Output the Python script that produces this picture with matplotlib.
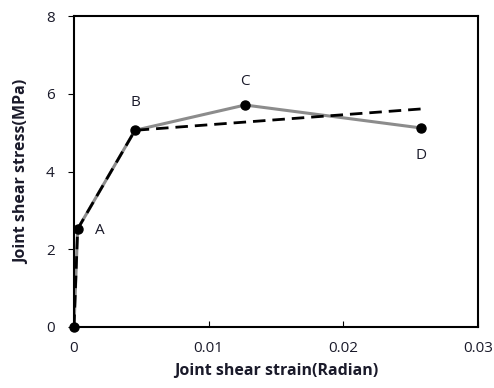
import matplotlib
matplotlib.use("Agg")
import matplotlib.pyplot as plt

# Experimental curve (grey, with points)
exp_strain = [0.0, 0.00027, 0.00453, 0.0127, 0.02577]
exp_stress = [0.0, 2.52, 5.06, 5.71, 5.12]
point_labels = ["", "A", "B", "C", "D"]

# Model curve (dashed)
mod_strain = [0.0, 0.00027, 0.00453, 0.0258]
mod_stress = [0.0, 2.52, 5.06, 5.61]

xticks = [0, 0.01, 0.02, 0.03]
xticklabels = ["0", "0.01", "0.02", "0.03"]
yticks = [0, 2, 4, 6, 8]

plt.rcParams['font.family'] = ['Open Sans', 'DejaVu Sans']
txt = '#1a1a2a'

fig = plt.figure(figsize=(4.94, 3.88), dpi=100)
ax = fig.add_axes([74/494, 61/388, 404/494, 311/388])

ax.plot(exp_strain, exp_stress, color='#8c8c8c', lw=2.2, zorder=2)
ax.plot(mod_strain, mod_stress, color='black', lw=2.0, ls=(0, (4.5, 2.5)), zorder=3)
ax.plot(exp_strain, exp_stress, ls='none', marker='o', ms=6.5, color='black', zorder=4, clip_on=False)

offsets = {"A": (16, -1), "B": (0, 20), "C": (0, 17), "D": (0, -20)}
for x, y, lab in zip(exp_strain, exp_stress, point_labels):
    if lab:
        dx, dy = offsets[lab]
        ax.annotate(lab, (x, y), xytext=(dx, dy), textcoords='offset points',
                    ha='center', va='center', fontsize=11, color=txt)

ax.set_xlim(0, 0.03)
ax.set_ylim(0, 8)
ax.set_xticks(xticks)
ax.set_xticklabels(xticklabels)
ax.set_yticks(yticks)
ax.tick_params(axis='x', direction='in', length=4, width=0.8, pad=10, labelsize=11, labelcolor=txt)
ax.tick_params(axis='y', direction='out', length=4, width=0.8, pad=10, labelsize=11, labelcolor=txt)
for s in ax.spines.values():
    s.set_linewidth(1.5)
    s.set_color('black')

ax.set_xlabel('Joint shear strain(Radian)', fontsize=11.5, fontweight='bold', color=txt, labelpad=5)
ax.set_ylabel('Joint shear stress(MPa)', fontsize=11.5, fontweight='bold', color=txt, labelpad=11)

fig.savefig('out.png', dpi=100)
